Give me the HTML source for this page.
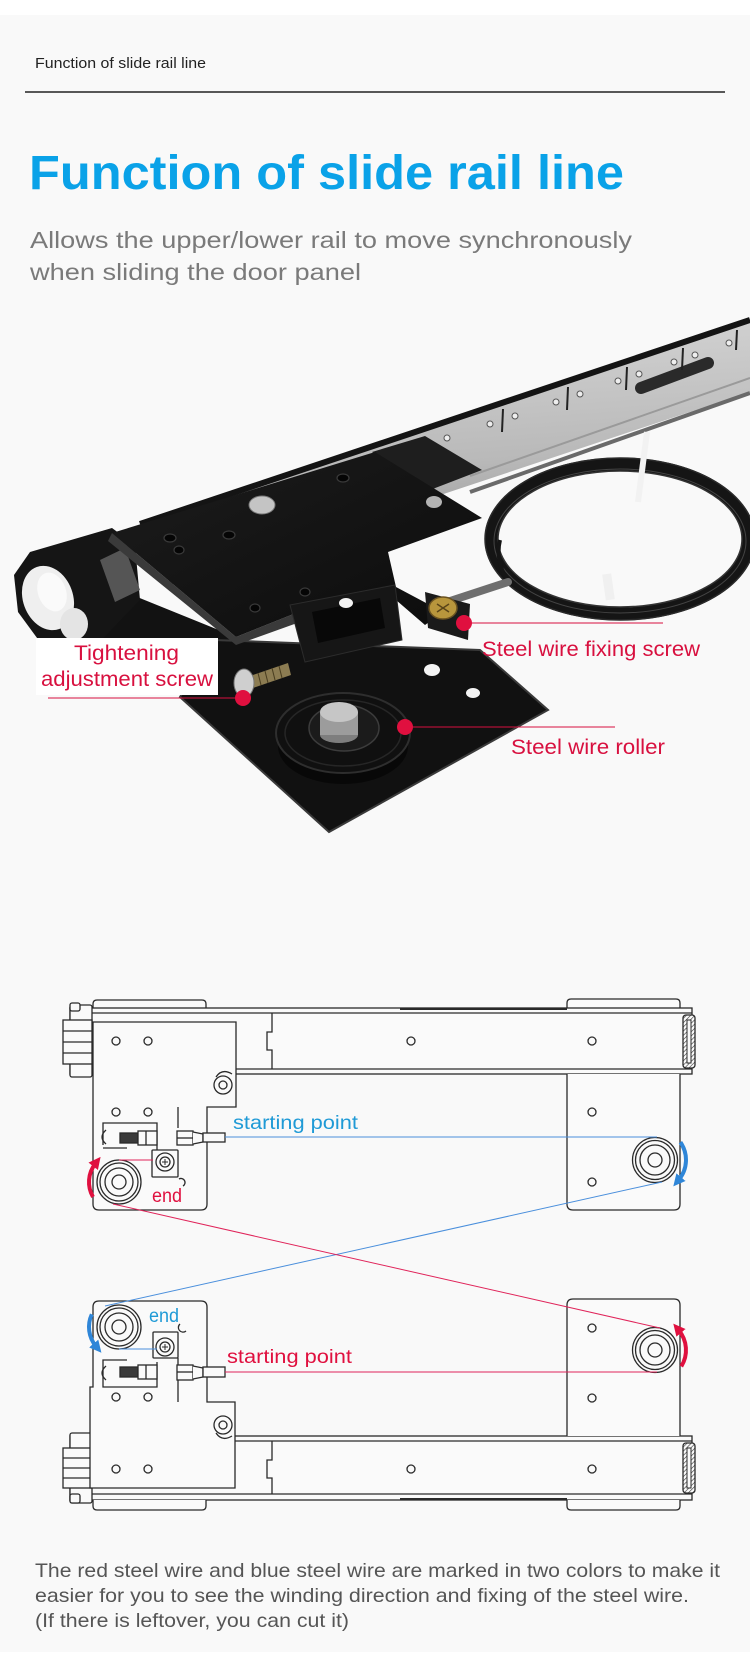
<!DOCTYPE html>
<html>
<head>
<meta charset="utf-8">
<style>
html,body{margin:0;padding:0;background:#f9f9f9;}
body{width:750px;height:1673px;overflow:hidden;position:relative;}
svg{position:absolute;left:0;top:0;}
text{font-family:"Liberation Sans",Arial,sans-serif;}
</style>
</head>
<body>
<svg width="750" height="1673" viewBox="0 0 750 1673" xmlns="http://www.w3.org/2000/svg">
<defs>
  <linearGradient id="railg" x1="0" y1="0" x2="0.15" y2="1">
    <stop offset="0" stop-color="#d8d8d8"/>
    <stop offset="0.6" stop-color="#b9b9b9"/>
    <stop offset="1" stop-color="#8e8e8e"/>
  </linearGradient>
  <linearGradient id="plateg" x1="0" y1="0" x2="1" y2="1">
    <stop offset="0" stop-color="#1c1c1c"/>
    <stop offset="1" stop-color="#0c0c0c"/>
  </linearGradient>
  <pattern id="hatch" width="3" height="3" patternUnits="userSpaceOnUse" patternTransform="rotate(45)">
    <rect width="3" height="3" fill="#fafafa"/>
    <line x1="0" y1="0" x2="0" y2="3" stroke="#333" stroke-width="1.2"/>
  </pattern>
  <marker id="mb" viewBox="0 0 10 10" refX="3" refY="5" markerWidth="3" markerHeight="3" orient="auto">
    <path d="M0,0 L10,5 L0,10 z" fill="#2f86d8"/>
  </marker>
  <marker id="mr" viewBox="0 0 10 10" refX="3" refY="5" markerWidth="3" markerHeight="3" orient="auto">
    <path d="M0,0 L10,5 L0,10 z" fill="#e0103f"/>
  </marker>
</defs>

<!-- backgrounds -->
<rect x="0" y="0" width="750" height="1673" fill="#f9f9f9"/>
<rect x="0" y="0" width="750" height="15" fill="#ffffff"/>
<rect x="0" y="1652" width="750" height="21" fill="#ffffff"/>

<!-- header -->
<text x="35" y="68" font-size="14.5" fill="#222" textLength="171" lengthAdjust="spacingAndGlyphs">Function of slide rail line</text>
<line x1="25" y1="92" x2="725" y2="92" stroke="#222" stroke-width="1.5"/>

<text x="29" y="189" font-size="48" font-weight="bold" fill="#0aa2e8" textLength="595" lengthAdjust="spacingAndGlyphs">Function of slide rail line</text>
<text x="30" y="248" font-size="23" fill="#7a7a7a" textLength="602" lengthAdjust="spacingAndGlyphs">Allows the upper/lower rail to move synchronously</text>
<text x="30" y="280" font-size="23" fill="#7a7a7a" textLength="331" lengthAdjust="spacingAndGlyphs">when sliding the door panel</text>

<!-- ================= PHOTO ================= -->
<g>
  <!-- rail -->
  <polygon points="750,320 150,521 170,585 750,392" fill="url(#railg)"/>
  <line x1="750" y1="320" x2="140" y2="524" stroke="#141414" stroke-width="6"/>
  <line x1="750" y1="393" x2="470" y2="492" stroke="#6a6a6a" stroke-width="4"/>
  <line x1="750" y1="378" x2="470" y2="476" stroke="#9a9a9a" stroke-width="2"/>
  <!-- slot -->
  <line x1="641" y1="388" x2="708" y2="363" stroke="#2a2a2a" stroke-width="12" stroke-linecap="round"/>
  <!-- segment dividers -->
  <g stroke="#222" stroke-width="2">
    <line x1="503" y1="409" x2="502" y2="432"/>
    <line x1="568" y1="387" x2="567" y2="410"/>
    <line x1="627" y1="367" x2="626" y2="390"/>
    <line x1="683" y1="348" x2="682" y2="370"/>
    <line x1="737" y1="330" x2="736" y2="350"/>
  </g>
  <g fill="#eeeeee" stroke="#555" stroke-width="1">
    <circle cx="447" cy="438" r="3"/><circle cx="490" cy="424" r="3"/>
    <circle cx="515" cy="416" r="3"/><circle cx="556" cy="402" r="3"/>
    <circle cx="580" cy="394" r="3"/><circle cx="618" cy="381" r="3"/>
    <circle cx="639" cy="374" r="3"/><circle cx="674" cy="362" r="3"/>
    <circle cx="695" cy="355" r="3"/><circle cx="729" cy="343" r="3"/>
  </g>
  <!-- carriage block -->
  <polygon points="372,452 425,436 482,470 430,490" fill="#1e1e1e"/>

  <!-- coil -->
  <ellipse cx="620" cy="539" rx="129" ry="75" fill="none" stroke="#151515" stroke-width="13"/>
  <ellipse cx="620" cy="539" rx="122" ry="68" fill="none" stroke="#333" stroke-width="1.5"/>
  <ellipse cx="620" cy="539" rx="135" ry="81" fill="none" stroke="#2a2a2a" stroke-width="1.5"/>
  <ellipse cx="620" cy="541" rx="126" ry="72" fill="none" stroke="#444" stroke-width="1"/>
  <line x1="647" y1="432" x2="638" y2="502" stroke="#f2f2f2" stroke-width="6"/>
  <rect x="604" y="574" width="9" height="26" fill="#f0f0f0" transform="rotate(-8 608 587)"/>
  <!-- wire to fixing -->
  <path d="M508,582 Q495,560 500,540" fill="none" stroke="#151515" stroke-width="4"/>
  <line x1="447" y1="602" x2="508" y2="582" stroke="#6e6e6e" stroke-width="8" stroke-linecap="round"/>

  <!-- left end assembly -->
  <polygon points="80,645 120,590 236,637 236,652 80,652" fill="#121212"/>
  <polygon points="14,575 30,552 112,528 135,545 140,600 92,650 40,642 18,612" fill="#151515"/>
  <ellipse cx="48" cy="598" rx="25" ry="33" fill="#efefef" transform="rotate(-20 48 598)"/>
  <ellipse cx="74" cy="624" rx="14" ry="16" fill="#e4e4e4"/>
  <ellipse cx="52" cy="592" rx="14" ry="20" fill="#fafafa" transform="rotate(-20 52 592)"/>
  <polygon points="100,560 125,548 140,590 115,602" fill="#555"/>

  <!-- lower plate -->
  <polygon points="180,697 214,640 480,650 548,710 329,832" fill="#111" stroke="#3a3a3a" stroke-width="2"/>
  <ellipse cx="432" cy="670" rx="8" ry="6" fill="#f4f4f4"/>
  <ellipse cx="473" cy="693" rx="7" ry="5" fill="#f4f4f4"/>

  <!-- upper plate -->
  <polygon points="108,541 236,645 300,622 296,613 236,637 112,533" fill="#3a3a3a"/>
  <polygon points="112,533 375,452 482,518 388,552 396,587 443,612 425,625 396,600 296,613 236,637" fill="url(#plateg)"/>
  <!-- bracket box -->
  <polygon points="290,605 395,585 402,640 305,662" fill="#161616" stroke="#2c2c2c" stroke-width="1"/>
  <polygon points="312,612 380,598 385,628 318,643" fill="#080808"/>
  <ellipse cx="346" cy="603" rx="7" ry="5" fill="#f2f2f2"/>
  <!-- holes & screws on upper plate -->
  <g fill="#050505" stroke="#3a3a3a" stroke-width="1.2">
    <ellipse cx="170" cy="538" rx="6" ry="4"/>
    <ellipse cx="179" cy="550" rx="5" ry="4"/>
    <ellipse cx="229" cy="535" rx="6" ry="4"/>
    <ellipse cx="343" cy="478" rx="6" ry="4"/>
    <ellipse cx="305" cy="592" rx="5" ry="4"/>
    <ellipse cx="255" cy="608" rx="5" ry="4"/>
  </g>
  <ellipse cx="262" cy="505" rx="13" ry="9" fill="#c4c4c4" stroke="#777" stroke-width="1"/>
  <ellipse cx="434" cy="502" rx="8" ry="6" fill="#b4b4b4"/>

  <!-- roller -->
  <ellipse cx="343" cy="746" rx="65" ry="38" fill="#080808"/>
  <ellipse cx="343" cy="733" rx="67" ry="40" fill="#101010" stroke="#2e2e2e" stroke-width="2"/>
  <ellipse cx="343" cy="733" rx="58" ry="33" fill="none" stroke="#262626" stroke-width="1.5"/>
  <ellipse cx="344" cy="728" rx="35" ry="23" fill="#1b1b1b" stroke="#3c3c3c" stroke-width="1.5"/>
  <ellipse cx="339" cy="735" rx="19" ry="8" fill="#7e7e7e"/>
  <rect x="320" y="712" width="38" height="23" fill="#9c9c9c"/>
  <ellipse cx="339" cy="712" rx="19" ry="10" fill="#c6c6c6"/>

  <!-- gold fixing screw -->
  <polygon points="425,592 470,604 468,640 428,628" fill="#1a1a1a"/>
  <ellipse cx="443" cy="608" rx="14" ry="11" fill="#b8963c" stroke="#6a5220" stroke-width="1.5"/>
  <line x1="437" y1="604" x2="449" y2="612" stroke="#5a4518" stroke-width="1.5"/>
  <line x1="449" y1="604" x2="437" y2="612" stroke="#5a4518" stroke-width="1.5"/>

  <!-- tightening screw -->
  <polygon points="250,676 288,663 291,675 253,688" fill="#8c7c52"/>
  <g stroke="#4a3e20" stroke-width="1">
    <line x1="258" y1="673" x2="261" y2="685"/><line x1="265" y1="671" x2="268" y2="683"/>
    <line x1="272" y1="668" x2="275" y2="680"/><line x1="279" y1="666" x2="282" y2="678"/>
  </g>
  <ellipse cx="244" cy="683" rx="10" ry="14" fill="#cfcfcf" stroke="#777" stroke-width="1"/>

  <!-- label box -->
  <rect x="36" y="638" width="182" height="57" fill="#ffffff"/>
  <text x="74" y="660" font-size="21" fill="#d8103f" textLength="105" lengthAdjust="spacingAndGlyphs">Tightening</text>
  <text x="41" y="686" font-size="21" fill="#d8103f" textLength="172" lengthAdjust="spacingAndGlyphs">adjustment screw</text>
  <line x1="48" y1="698" x2="243" y2="698" stroke="#d8103f" stroke-width="1"/>
  <circle cx="243" cy="698" r="8" fill="#e0103f"/>

  <line x1="464" y1="623" x2="663" y2="623" stroke="#d8103f" stroke-width="1"/>
  <circle cx="464" cy="623" r="8" fill="#e0103f"/>
  <text x="482" y="656" font-size="21" fill="#d8103f" textLength="218" lengthAdjust="spacingAndGlyphs">Steel wire fixing screw</text>

  <line x1="405" y1="727" x2="615" y2="727" stroke="#d8103f" stroke-width="1"/>
  <circle cx="405" cy="727" r="8" fill="#e0103f"/>
  <text x="511" y="754" font-size="21" fill="#d8103f" textLength="154" lengthAdjust="spacingAndGlyphs">Steel wire roller</text>
</g>

<!-- ================= DIAGRAM ================= -->
<g stroke="#2a2a2a" stroke-width="1.3" fill="#fafafa">
  <!-- ===== upper assembly ===== -->
  <path d="M93,1008 V1004 Q93,1000 97,1000 H202 Q206,1000 206,1004 V1008"/>
  <path d="M567,1008 V1003 Q567,999 571,999 H676 Q680,999 680,1003 V1008"/>
  <rect x="70" y="1008" width="622" height="66"/>
  <line x1="70" y1="1013" x2="692" y2="1013"/>
  <line x1="70" y1="1069" x2="692" y2="1069"/>
  <line x1="400" y1="1009" x2="567" y2="1009" stroke-width="2"/>
  <path d="M272,1013 V1032 H267 V1050 H272 V1069" fill="none"/>
  <!-- end caps -->
  <rect x="683" y="1015" width="12" height="53" rx="3" fill="url(#hatch)"/>
  <rect x="687" y="1020" width="4" height="43" fill="#fafafa" stroke-width="1"/>
  <rect x="70" y="1005" width="22" height="72" rx="2"/>
  <rect x="63" y="1020" width="29" height="44"/>
  <line x1="63" y1="1031" x2="92" y2="1031"/>
  <line x1="63" y1="1042" x2="92" y2="1042"/>
  <line x1="63" y1="1053" x2="92" y2="1053"/>
  <rect x="70" y="1003" width="10" height="8" rx="2"/>
  <!-- left plate -->
  <path d="M93,1022 H236 V1107 H207 V1204 Q207,1210 201,1210 H99 Q93,1210 93,1204 Z"/>
  <line x1="178" y1="1107" x2="178" y2="1128"/>
  <!-- right plate -->
  <path d="M567,1074 V1204 Q567,1210 573,1210 H674 Q680,1210 680,1204 V1074"/>
  <!-- holes -->
  <circle cx="116" cy="1041" r="4"/><circle cx="148" cy="1041" r="4"/>
  <circle cx="116" cy="1112" r="4"/><circle cx="148" cy="1112" r="4"/>
  <circle cx="411" cy="1041" r="4"/><circle cx="592" cy="1041" r="4"/>
  <circle cx="592" cy="1112" r="4"/><circle cx="592" cy="1182" r="4"/>
  <!-- screw -->
  <path d="M216,1077 Q222,1068 232,1074" fill="none"/>
  <circle cx="223" cy="1085" r="9"/><circle cx="223" cy="1085" r="4"/>
  <!-- mechanism -->
  <path d="M103,1145 V1123 H157 V1150" fill="none"/>
  <path d="M103,1148 H127" fill="none"/>
  <path d="M106,1130 Q98,1137 106,1144" fill="none"/>
  <rect x="120" y="1133" width="18" height="10" fill="#3a3a3a"/>
  <rect x="138" y="1131" width="19" height="14"/>
  <line x1="146" y1="1131" x2="146" y2="1145"/>
  <rect x="177" y="1131" width="16" height="14"/>
  <line x1="177" y1="1138" x2="193" y2="1138"/>
  <path d="M193,1132 L203,1134 V1142 L193,1144" fill="#fafafa"/>
  <rect x="203" y="1133" width="22" height="9"/>
  <rect x="152" y="1150" width="26" height="27" rx="1"/>
  <circle cx="165" cy="1162" r="9"/><circle cx="165" cy="1162" r="5"/>
  <path d="M162,1162 H168 M165,1159 V1165" fill="none" stroke-width="1"/>
  <path d="M179,1179 A4,4 0 1 1 183,1186" fill="none"/>
  <!-- rollers -->
  <circle cx="119" cy="1182" r="22"/><circle cx="119" cy="1182" r="19"/>
  <circle cx="119" cy="1182" r="14"/><circle cx="119" cy="1182" r="7"/>
  <circle cx="655" cy="1160" r="22.5"/><circle cx="655" cy="1160" r="19.5"/>
  <circle cx="655" cy="1160" r="15"/><circle cx="655" cy="1160" r="7"/>

  <!-- ===== lower assembly ===== -->
  <rect x="70" y="1436" width="622" height="64"/>
  <line x1="70" y1="1441" x2="692" y2="1441"/>
  <line x1="70" y1="1494" x2="692" y2="1494"/>
  <line x1="400" y1="1499" x2="567" y2="1499" stroke-width="2"/>
  <path d="M272,1441 V1460 H267 V1478 H272 V1494" fill="none"/>
  <path d="M93,1500 V1506 Q93,1510 97,1510 H202 Q206,1510 206,1506 V1500"/>
  <path d="M567,1500 V1506 Q567,1510 571,1510 H676 Q680,1510 680,1506 V1500"/>
  <rect x="683" y="1443" width="12" height="50" rx="3" fill="url(#hatch)"/>
  <rect x="687" y="1448" width="4" height="40" fill="#fafafa" stroke-width="1"/>
  <rect x="70" y="1433" width="22" height="70" rx="2"/>
  <rect x="63" y="1448" width="29" height="40"/>
  <line x1="63" y1="1458" x2="92" y2="1458"/>
  <line x1="63" y1="1468" x2="92" y2="1468"/>
  <line x1="63" y1="1478" x2="92" y2="1478"/>
  <rect x="70" y="1494" width="10" height="9" rx="2"/>
  <!-- left plate -->
  <path d="M99,1301 H201 Q207,1301 207,1307 V1402 H235 V1488 H90 V1387 H93 V1307 Q93,1301 99,1301 Z"/>
  <line x1="178" y1="1358" x2="178" y2="1402"/>
  <!-- right plate -->
  <path d="M567,1436 V1305 Q567,1299 573,1299 H674 Q680,1299 680,1305 V1436"/>
  <!-- holes -->
  <circle cx="116" cy="1397" r="4"/><circle cx="148" cy="1397" r="4"/>
  <circle cx="116" cy="1469" r="4"/><circle cx="148" cy="1469" r="4"/>
  <circle cx="411" cy="1469" r="4"/><circle cx="592" cy="1469" r="4"/>
  <circle cx="592" cy="1328" r="4"/><circle cx="592" cy="1398" r="4"/>
  <!-- screw -->
  <path d="M216,1433 Q222,1442 232,1436" fill="none"/>
  <circle cx="223" cy="1425" r="9"/><circle cx="223" cy="1425" r="4"/>
  <!-- mechanism -->
  <path d="M127,1360 H103 V1387 H157 V1362" fill="none"/>
  <path d="M106,1366 Q98,1373 106,1380" fill="none"/>
  <rect x="120" y="1367" width="18" height="10" fill="#3a3a3a"/>
  <rect x="138" y="1365" width="19" height="14"/>
  <line x1="146" y1="1365" x2="146" y2="1379"/>
  <rect x="177" y="1365" width="16" height="15"/>
  <line x1="177" y1="1372" x2="193" y2="1372"/>
  <path d="M193,1366 L203,1368 V1377 L193,1379" fill="#fafafa"/>
  <rect x="203" y="1367" width="22" height="10"/>
  <rect x="153" y="1332" width="25" height="26" rx="1"/>
  <circle cx="165" cy="1347" r="9"/><circle cx="165" cy="1347" r="5"/>
  <path d="M162,1347 H168 M165,1344 V1350" fill="none" stroke-width="1"/>
  <path d="M180,1324 A4,4 0 1 0 186,1331" fill="none"/>
  <!-- rollers -->
  <circle cx="119" cy="1327" r="22"/><circle cx="119" cy="1327" r="19"/>
  <circle cx="119" cy="1327" r="14"/><circle cx="119" cy="1327" r="7"/>
  <circle cx="655" cy="1350" r="22.5"/><circle cx="655" cy="1350" r="19.5"/>
  <circle cx="655" cy="1350" r="15"/><circle cx="655" cy="1350" r="7"/>
</g>

<!-- wires -->
<g fill="none" stroke-width="1">
  <line x1="225" y1="1137" x2="657" y2="1137" stroke="#4a8fdc"/>
  <line x1="662" y1="1182" x2="105" y2="1306" stroke="#4a8fdc"/>
  <line x1="119" y1="1349" x2="157" y2="1349" stroke="#4a8fdc"/>
  <line x1="153" y1="1160" x2="119" y2="1160" stroke="#e0245a"/>
  <line x1="113" y1="1204" x2="660" y2="1328" stroke="#e0245a"/>
  <line x1="657" y1="1372" x2="225" y2="1372" stroke="#e0245a"/>
</g>
<!-- direction arrows -->
<g fill="none" stroke-width="4">
  <path d="M93,1197 A30,30 0 0 1 95.4,1163.5" stroke="#e0103f" marker-end="url(#mr)"/>
  <path d="M680.4,1142.2 A31,31 0 0 1 678.7,1179.9" stroke="#2f86d8" marker-end="url(#mb)"/>
  <path d="M91.8,1314.3 A30,30 0 0 0 96,1346.3" stroke="#2f86d8" marker-end="url(#mb)"/>
  <path d="M681.3,1366.4 A31,31 0 0 0 678.7,1330.1" stroke="#e0103f" marker-end="url(#mr)"/>
</g>

<!-- diagram labels -->
<text x="233" y="1129" font-size="19" fill="#1f9ad6" textLength="125" lengthAdjust="spacingAndGlyphs">starting point</text>
<text x="152" y="1202" font-size="19" fill="#e0103f" textLength="30" lengthAdjust="spacingAndGlyphs">end</text>
<text x="149" y="1322" font-size="19" fill="#1f9ad6" textLength="30" lengthAdjust="spacingAndGlyphs">end</text>
<text x="227" y="1363" font-size="19" fill="#e0103f" textLength="125" lengthAdjust="spacingAndGlyphs">starting point</text>

<!-- bottom text -->
<text x="35" y="1577" font-size="19.5" fill="#555" textLength="685" lengthAdjust="spacingAndGlyphs">The red steel wire and blue steel wire are marked in two colors to make it</text>
<text x="35" y="1602" font-size="19.5" fill="#555" textLength="654" lengthAdjust="spacingAndGlyphs">easier for you to see the winding direction and fixing of the steel wire.</text>
<text x="35" y="1627" font-size="19.5" fill="#555" textLength="314" lengthAdjust="spacingAndGlyphs">(If there is leftover, you can cut it)</text>
</svg>
</body>
</html>
